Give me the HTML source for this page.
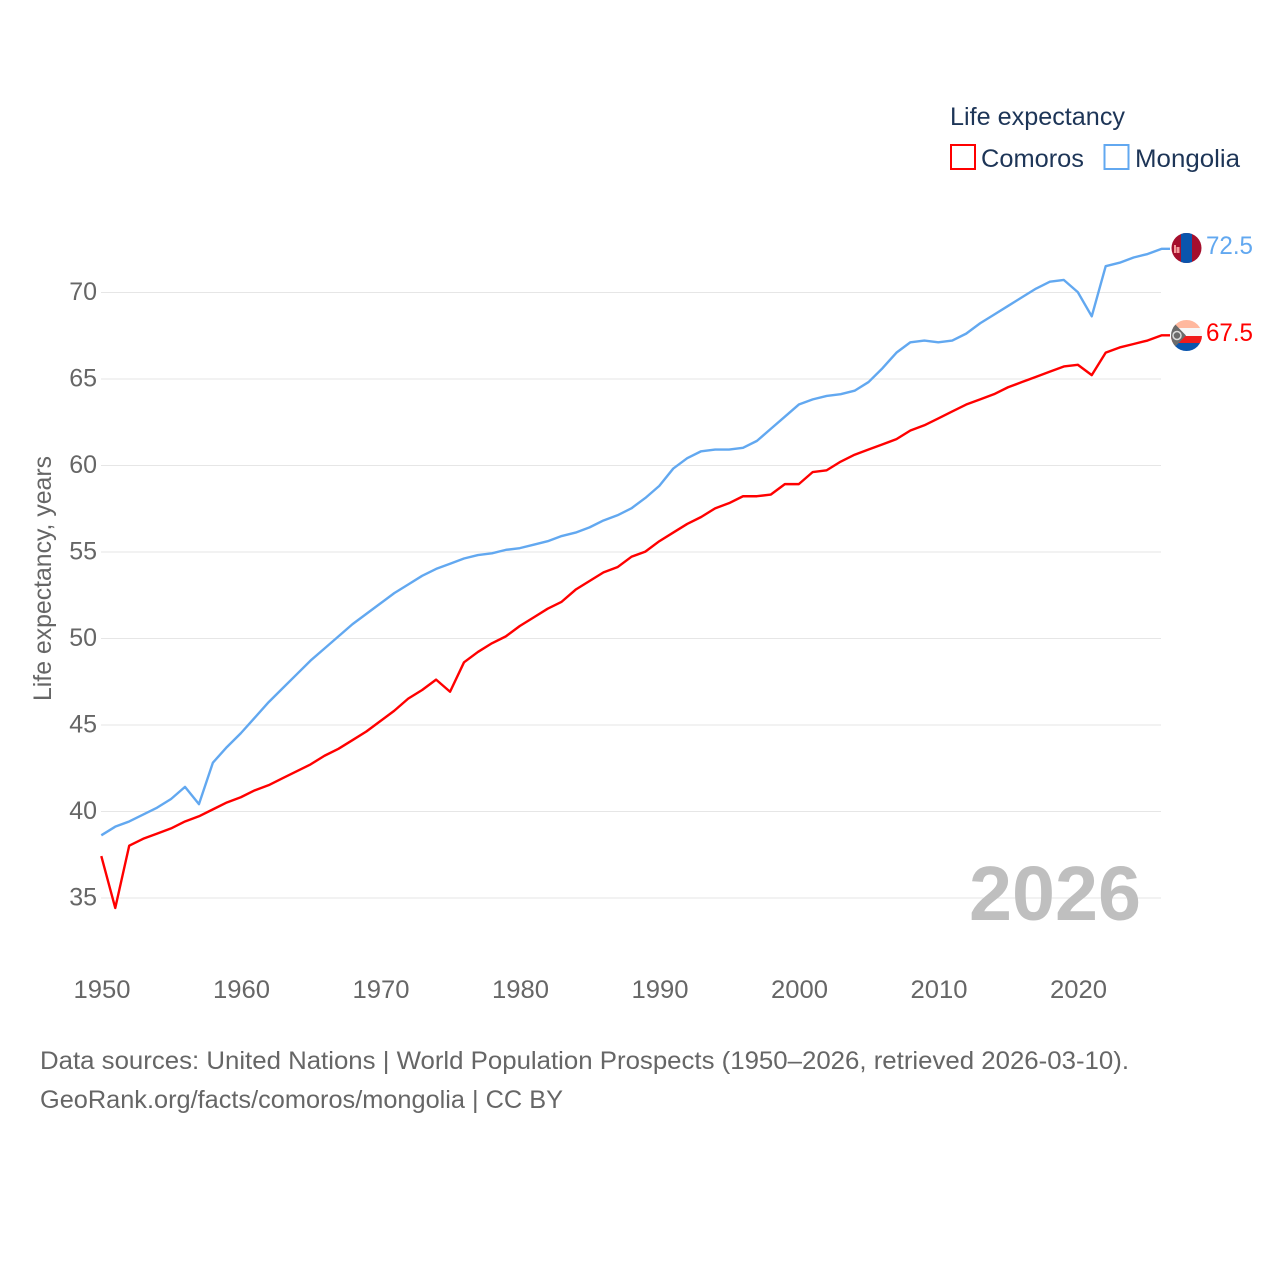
<!DOCTYPE html>
<html lang="en">
<head>
<meta charset="utf-8">
<title>Life expectancy: Comoros and Mongolia</title>
<style>
html,body{margin:0;padding:0;background:#fff;width:1280px;height:1280px;overflow:hidden}
svg{display:block;font-family:"Liberation Sans",sans-serif}
text{fill:#666;font-size:25px}
.navy{fill:#1d3557}
</style>
</head>
<body>
<svg id="chart" width="1280" height="1280" viewBox="0 0 1280 1280" xmlns="http://www.w3.org/2000/svg">
  <defs>
    <clipPath id="flag-clip-mn"><circle cx="1186.5" cy="248" r="15"/></clipPath>
    <clipPath id="flag-clip-km"><circle cx="1186.5" cy="335.5" r="15.5"/></clipPath>
  </defs>
  <g id="grid"></g>
  <g id="yticks"></g>
  <g id="xticks"></g>
  <text transform="translate(51,701) rotate(-90)" textLength="245" lengthAdjust="spacingAndGlyphs">Life expectancy, years</text>
  <text x="969" y="920" font-weight="bold" textLength="172" lengthAdjust="spacingAndGlyphs" style="font-size:77px;fill:#bfbfbf">2026</text>
  <g id="series"></g>

  <g>
    <text class="navy" x="950" y="125" textLength="175" lengthAdjust="spacingAndGlyphs">Life expectancy</text>
    <g>
      <rect x="951" y="145" width="24" height="24" fill="#fff" stroke="#ff0000" stroke-width="2"/>
      <text class="navy" x="981" y="167" textLength="103" lengthAdjust="spacingAndGlyphs">Comoros</text>
    </g>
    <g>
      <rect x="1104.500" y="145" width="24" height="24" fill="#fff" stroke="#62a8f0" stroke-width="2"/>
      <text class="navy" x="1135" y="167" textLength="105" lengthAdjust="spacingAndGlyphs">Mongolia</text>
    </g>
  </g>

  <g clip-path="url(#flag-clip-mn)">
    <rect x="1171" y="232" width="31" height="32" fill="#a50f2d"/>
    <rect x="1181" y="232" width="11" height="32" fill="#0a55ad"/>
    <rect x="1174" y="245" width="2" height="8" fill="#f49a9a"/>
    <rect x="1176.500" y="247" width="3" height="6" fill="#f49a9a"/>
  </g>
  <g clip-path="url(#flag-clip-km)">
    <rect x="1171" y="320" width="31" height="8" fill="#ffb89e"/>
    <rect x="1171" y="328" width="31" height="8" fill="#f7f7f7"/>
    <rect x="1171" y="336" width="31" height="7" fill="#f01c1c"/>
    <rect x="1171" y="343" width="31" height="8" fill="#0a55ad"/>
    <polygon points="1171,320 1186,335.500 1171,351" fill="#6b6b6b"/>
    <circle cx="1177" cy="335.500" r="4" fill="none" stroke="#dcdcdc" stroke-width="1.500"/>
  </g>
  <text x="1206" y="254" textLength="47" lengthAdjust="spacingAndGlyphs" style="fill:#62a8f0">72.5</text>
  <text x="1206" y="341" textLength="47" lengthAdjust="spacingAndGlyphs" style="fill:#ff0000">67.5</text>

  <g>
    <text x="40" y="1069" textLength="1089" lengthAdjust="spacingAndGlyphs">Data sources: United Nations | World Population Prospects (1950–2026, retrieved 2026-03-10).</text>
    <text x="40" y="1108" textLength="523" lengthAdjust="spacingAndGlyphs">GeoRank.org/facts/comoros/mongolia | CC BY</text>
  </g>
</svg>
<script>
const startYear = 1950;
const xTickYears = [1950, 1960, 1970, 1980, 1990, 2000, 2010, 2020];
const yTickValues = [35, 40, 45, 50, 55, 60, 65, 70];
const comorosValues = [37.4,34.4,38.0,38.4,38.7,39.0,39.4,39.7,40.1,40.5,40.8,41.2,41.5,41.9,42.3,42.7,43.2,43.6,44.1,44.6,45.2,45.8,46.5,47.0,47.6,46.9,48.6,49.2,49.7,50.1,50.7,51.2,51.7,52.1,52.8,53.3,53.8,54.1,54.7,55.0,55.6,56.1,56.6,57.0,57.5,57.8,58.2,58.2,58.3,58.9,58.9,59.6,59.7,60.2,60.6,60.9,61.2,61.5,62.0,62.3,62.7,63.1,63.5,63.8,64.1,64.5,64.8,65.1,65.4,65.7,65.8,65.2,66.5,66.8,67.0,67.2,67.5];
const mongoliaValues = [38.6,39.1,39.4,39.8,40.2,40.7,41.4,40.4,42.8,43.7,44.5,45.4,46.3,47.1,47.9,48.7,49.4,50.1,50.8,51.4,52.0,52.6,53.1,53.6,54.0,54.3,54.6,54.8,54.9,55.1,55.2,55.4,55.6,55.9,56.1,56.4,56.8,57.1,57.5,58.1,58.8,59.8,60.4,60.8,60.9,60.9,61.0,61.4,62.1,62.8,63.5,63.8,64.0,64.1,64.3,64.8,65.6,66.5,67.1,67.2,67.1,67.2,67.6,68.2,68.7,69.2,69.7,70.2,70.6,70.7,70.0,68.6,71.5,71.7,72.0,72.2,72.5];

const NS = 'http://www.w3.org/2000/svg';
function xScale(year) { return 101.3 + (year - 1950) * 13.95; }
function yScale(value) { return 897.6 - (value - 35) * 17.3; }

const gridGroup = document.getElementById('grid');
const yTickGroup = document.getElementById('yticks');
const xTickGroup = document.getElementById('xticks');
const seriesGroup = document.getElementById('series');

yTickValues.forEach(function (v) {
  const line = document.createElementNS(NS, 'line');
  
  
  line.setAttribute('x1', 101);
  line.setAttribute('x2', 1161);
  line.setAttribute('y1', yScale(v) + 0.4);
  line.setAttribute('y2', yScale(v) + 0.4);
  line.setAttribute('stroke', '#e6e6e6');
  line.setAttribute('stroke-width', '1');
  gridGroup.appendChild(line);

  const label = document.createElementNS(NS, 'text');
  
  
  label.setAttribute('x', 97);
  label.setAttribute('y', yScale(v) + 8);
  label.setAttribute('text-anchor', 'end');
  label.textContent = String(v);
  yTickGroup.appendChild(label);
});

xTickYears.forEach(function (year) {
  const label = document.createElementNS(NS, 'text');
  
  
  label.setAttribute('x', xScale(year) + 0.7);
  label.setAttribute('y', 998);
  label.setAttribute('text-anchor', 'middle');
  label.setAttribute('textLength', '57');
  label.setAttribute('lengthAdjust', 'spacingAndGlyphs');
  label.textContent = String(year);
  xTickGroup.appendChild(label);
});

function drawSeries(values, color, name) {
  const pts = values.map(function (v, i) {
    return xScale(startYear + i).toFixed(2) + ',' + yScale(v).toFixed(2);
  });
  const lastY = yScale(values[values.length - 1]).toFixed(2);
  pts.push('1170,' + lastY);
  const line = document.createElementNS(NS, 'polyline');
  
  
  line.setAttribute('points', pts.join(' '));
  line.setAttribute('fill', 'none');
  line.setAttribute('stroke', color);
  line.setAttribute('stroke-width', '2.4');
  line.setAttribute('stroke-linejoin', 'round');
  seriesGroup.appendChild(line);
}
drawSeries(comorosValues, '#ff0000', 'comoros-line');
drawSeries(mongoliaValues, '#62a8f0', 'mongolia-line');
</script>
</body>
</html>
